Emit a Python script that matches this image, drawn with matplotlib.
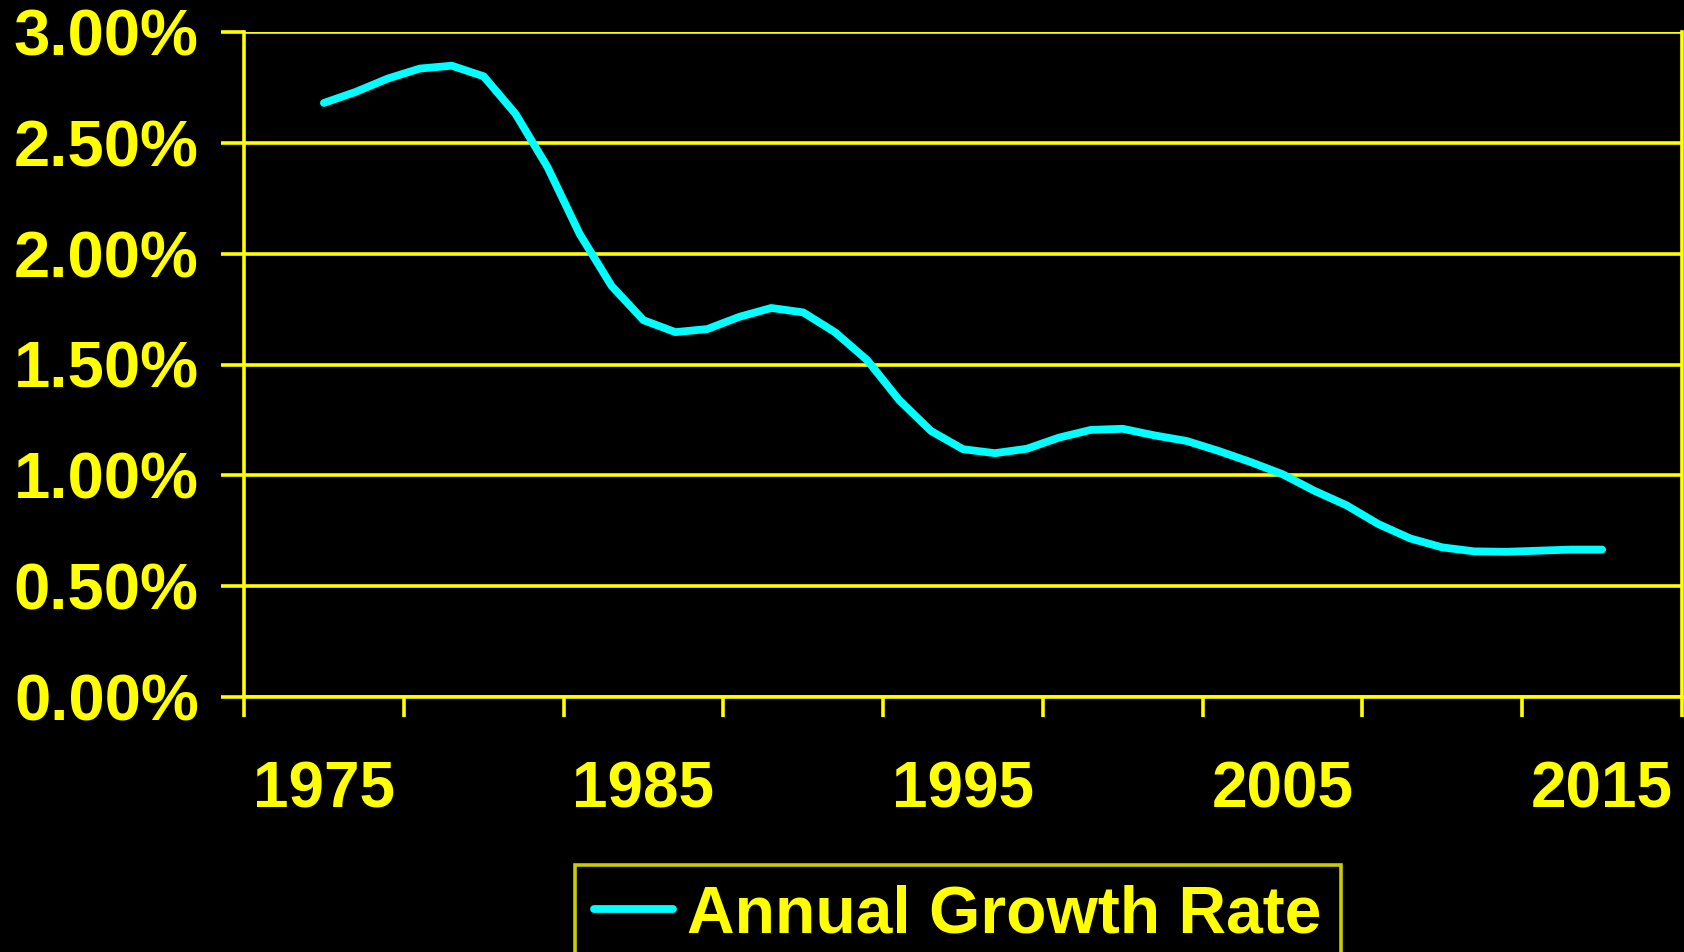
import numpy as np
import matplotlib
matplotlib.use("Agg")
import matplotlib.pyplot as plt
from matplotlib.ticker import FuncFormatter

# annual growth rate (%)
years = list(range(1975, 2016))
growth_rate = [2.68, 2.73, 2.79, 2.835, 2.848, 2.80, 2.63, 2.39, 2.09, 1.855,
               1.70, 1.646, 1.66, 1.715, 1.755, 1.735, 1.645, 1.52, 1.34, 1.20,
               1.118, 1.10, 1.12, 1.17, 1.205, 1.21, 1.18, 1.155, 1.11, 1.06,
               1.005, 0.93, 0.865, 0.78, 0.715, 0.675, 0.657, 0.655, 0.66, 0.665,
               0.665]
label_years = [1975, 1985, 1995, 2005, 2015]
series_name = "Annual Growth Rate"

yellow = "#FFFF00"
cyan = "#00FFFF"
plt.rcParams["font.family"] = ["Liberation Sans", "DejaVu Sans"]
plt.rcParams["font.weight"] = "bold"

fig = plt.figure(figsize=(16.84, 9.52), dpi=100, facecolor="black")
ax = fig.add_axes([244/1684, 1 - 697/952, (1682 - 244)/1684, (697 - 32)/952])
ax.set_facecolor("black")

ax.plot(years, np.array(growth_rate) / 100, color=cyan, linewidth=5.6,
        solid_capstyle="round", solid_joinstyle="round", label=series_name, zorder=3)

# y axis
ax.set_ylim(0, 0.03)
ax.set_yticks(np.arange(0, 0.0301, 0.005))
ax.yaxis.set_major_formatter(FuncFormatter(lambda v, p: f"{v*100:.2f}%"))
ax.grid(True, axis="y", color=yellow, linewidth=2.6)
ax.set_axisbelow(True)

# x axis: category boundaries as ticks, labels every other category
ax.set_xlim(1972.5, 2017.5)
ax.set_xticks(np.arange(1972.5, 2018, 5))
ax.set_xticklabels([])
ax.set_xticks(label_years, minor=True)
ax.set_xticklabels([str(y) for y in label_years], minor=True)

ax.tick_params(axis="y", colors=yellow, labelsize=47, length=16.5, width=2.6, pad=16)
ax.tick_params(axis="x", which="major", colors=yellow, length=14.4, width=2.6)
ax.tick_params(axis="x", which="minor", colors=yellow, labelsize=46, length=0, pad=46)
for lbl in ax.get_xticklabels(minor=True) + ax.get_yticklabels():
    lbl.set_fontweight("bold")

for side in ["left", "right", "bottom"]:
    ax.spines[side].set_color(yellow)
    ax.spines[side].set_linewidth(2.6)
ax.spines["top"].set_visible(False)

leg = fig.legend(loc="upper left", bbox_to_anchor=(575/1684, 1 - 865/952),
                 bbox_transform=fig.transFigure, borderaxespad=0,
                 frameon=True, fancybox=False, handlelength=1.2, handletextpad=0.21,
                 borderpad=0.29, prop={"weight": "bold", "size": 47.5})
leg.get_frame().set_facecolor("black")
leg.get_frame().set_edgecolor(yellow)
leg.get_frame().set_linewidth(2.6)
for t in leg.get_texts():
    t.set_color(yellow)

fig.savefig("out.png", dpi=100, facecolor="black")
